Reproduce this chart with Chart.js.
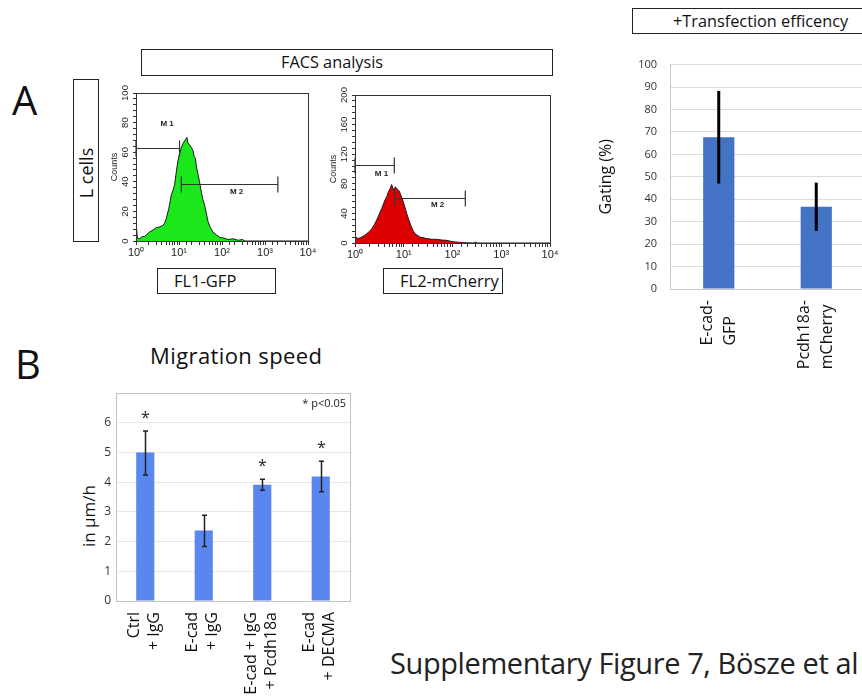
<!DOCTYPE html>
<html>
<head>
<meta charset="utf-8">
<script src="https://cdn.jsdelivr.net/npm/chart.js@4.4.1/dist/chart.umd.min.js"></script>
<style>
html,body{margin:0;padding:0;overflow:hidden;background:#fff;}
body{position:relative;width:862px;height:700px;font-family:"Open Sans",sans-serif;color:#111;}
canvas{position:absolute;}
.t{position:absolute;line-height:1;white-space:nowrap;}
.box{position:absolute;border:1px solid #222;box-sizing:border-box;background:#fff;white-space:nowrap;}
</style>
</head>
<body>

<div class="t" style="left:12px;top:80px;font-size:40px;">A</div>
<div class="t" style="left:15px;top:344px;font-size:40px;">B</div>

<div class="box" style="left:73px;top:79px;width:26px;height:163px;">
  <div class="t" style="left:50%;top:58%;font-size:18px;transform:translate(-50%,-50%) rotate(-90deg);">L cells</div>
</div>
<div class="box" style="left:141px;top:49px;width:412px;height:27px;font-size:16.3px;line-height:25px;padding-left:139px;">FACS analysis</div>
<div class="box" style="left:157px;top:268px;width:119px;height:26px;font-size:16.5px;line-height:24px;padding-left:16px;">FL1-GFP</div>
<div class="box" style="left:383px;top:268px;width:120px;height:26px;font-size:16.5px;line-height:24px;padding-left:16px;">FL2-mCherry</div>
<div class="box" style="left:632px;top:8px;width:250px;height:26px;font-size:16.3px;line-height:24px;padding-left:40px;">+Transfection efficency</div>

<div class="t" style="left:150px;top:343.5px;font-size:22px;letter-spacing:0.4px;">Migration speed</div>
<div class="t" style="left:88px;top:516px;font-size:17px;transform:translate(-50%,-50%) rotate(-90deg);">in µm/h</div>

<div class="t" style="left:390px;top:648px;font-size:29px;letter-spacing:-0.4px;color:#222;">Supplementary Figure 7, Bösze et al</div>

<canvas id="gfp" width="230" height="182" style="left:96px;top:83px;"></canvas>
<canvas id="mch" width="250" height="182" style="left:315px;top:85px;"></canvas>
<canvas id="trans" width="290" height="334" style="left:586px;top:45px;"></canvas>
<canvas id="mig" width="306" height="320" style="left:56px;top:380px;"></canvas>

<script>
// ---------- data ----------
const facsXTickLabels = ['10⁰','10¹','10²','10³','10⁴'];

const gfpIntensity = [1, 1.02, 1.08, 1.2, 1.4, 1.57, 1.8, 2.05, 2.5, 2.94, 3.5, 4.2, 4.6, 5.04, 5.8, 6.6, 7.2, 7.9, 8.6, 9.4, 10.3, 11.3, 12.4, 13.5, 14.5, 15.3, 16.2, 17.7, 19.5, 21.2, 22.5, 24, 25.5, 27.7, 30, 33.1, 36, 39.6, 43, 47.4, 54, 62, 75, 89, 110, 139, 180, 239, 300, 342, 10000];
const gfpCounts    = [0, 10, 2, 1.5, 3, 3, 4.5, 6, 7.5, 9, 9.5, 10.5, 12, 15, 22, 31, 34, 38, 46, 54, 59, 63, 66, 67.5, 69, 70, 66, 65, 63, 61, 57, 56, 50, 45, 40, 33, 28, 24, 19, 13, 9, 6, 4, 2.5, 2, 1, 1.5, 0.5, 1, 0, 0];
const gfpCountTicks = [0, 20, 40, 60, 80, 100];
const gfpGateNames = ['M1', 'M2'];
const gfpGateFrom  = [1, 11.3];
const gfpGateTo    = [10.3, 1990];
const gfpGateLevel = [63, 38.3];
const gfpGateLabelX = [5.3, 219];
const gfpGateLabelY = [79, 33];

const mchIntensity = [1, 1, 1.04, 1.17, 1.37, 1.55, 1.74, 2.0, 2.2, 2.5, 2.78, 3.1, 3.52, 4.12, 4.5, 4.83, 5.3, 5.65, 6.0, 6.31, 6.7, 7.16, 8.12, 8.8, 9.5, 10.5, 11.5, 12.6, 13.9, 15.5, 17, 21.5, 29.5, 38, 47.3, 60, 75.9, 95, 112, 167, 267, 300, 320, 10000];
const mchCounts    = [0, 76, 8, 6, 8, 10, 12.6, 16, 19, 25, 31, 38, 46.5, 58, 63, 69, 74, 79, 74, 71, 76, 73.6, 70, 64, 58, 49, 40, 32, 24, 17, 12.6, 8, 6, 5, 5, 4, 3.6, 2, 1.4, 0.5, 0, 1, 0, 0];
const mchCountTicks = [0, 40, 80, 120, 160, 200];
const mchGateNames = ['M1', 'M2'];
const mchGateFrom  = [1, 6.6];
const mchGateTo    = [6.4, 183];
const mchGateLevel = [106, 61];
const mchGateLabelX = [3.5, 49.6];
const mchGateLabelY = [94, 51];

const transCategories = [['E-cad-', 'GFP'], ['Pcdh18a-', 'mCherry']];
const transValues  = [67.6, 36.6];
const transErrLow  = [47.0, 25.9];
const transErrHigh = [88.3, 47.4];

const migCategories = [['Ctrl', '+ IgG'], ['E-cad', '+ IgG'], ['E-cad + IgG', '+ Pcdh18a'], ['E-cad', '+ DECMA']];
const migValues  = [5.0, 2.37, 3.91, 4.19];
const migErrLow  = [4.24, 1.83, 3.73, 3.68];
const migErrHigh = [5.72, 2.89, 4.10, 4.70];
const migSignificant = [true, false, true, true];
const migNote = '* p<0.05';

// ---------- helpers ----------
Chart.defaults.font.family = '"Open Sans", sans-serif';
Chart.defaults.animation = false;
Chart.defaults.responsive = false;
Chart.defaults.devicePixelRatio = 1;
Chart.defaults.plugins.legend.display = false;
Chart.defaults.plugins.tooltip.enabled = false;

const frame = (color, width, when) => ({
  id: 'frame',
  [when || 'afterDraw'](chart) {
    const {ctx, chartArea: a} = chart;
    ctx.save(); ctx.strokeStyle = color; ctx.lineWidth = width;
    ctx.strokeRect(Math.round(a.left) + 0.5, Math.round(a.top) + 0.5, Math.round(a.right - a.left), Math.round(a.bottom - a.top));
    ctx.restore();
  }
});

const rotYLabels = (tickValues) => ({
  id: 'rotY',
  afterDraw(chart) {
    const s = chart.scales.y, ctx = chart.ctx;
    ctx.save(); ctx.font = '9.5px "Liberation Sans"'; ctx.fillStyle = '#222';
    ctx.textAlign = 'center'; ctx.textBaseline = 'middle';
    tickValues.forEach(v => {
      ctx.save(); ctx.translate(s.right - 10.5, s.getPixelForValue(v)); ctx.rotate(-Math.PI / 2);
      ctx.fillText(String(v), 0, 0); ctx.restore();
    });
    ctx.restore();
  }
});

const gates = (names, from, to, level, lx, ly) => ({
  id: 'gates',
  afterDatasetsDraw(chart) {
    const {ctx, scales: {x, y}} = chart;
    ctx.save(); ctx.strokeStyle = '#333'; ctx.lineWidth = 1.2; ctx.fillStyle = '#222';
    ctx.font = 'bold 8px "Liberation Sans"'; ctx.textAlign = 'center'; ctx.textBaseline = 'middle';
    names.forEach((n, i) => {
      const x1 = x.getPixelForValue(from[i]), x2 = x.getPixelForValue(to[i]), yy = Math.round(y.getPixelForValue(level[i])) + 0.5;
      ctx.beginPath();
      ctx.moveTo(x1, yy); ctx.lineTo(x2, yy);
      ctx.moveTo(x1, yy - 8); ctx.lineTo(x1, yy + 8);
      ctx.moveTo(x2, yy - 8); ctx.lineTo(x2, yy + 8);
      ctx.stroke();
      ctx.fillText(n.split('').join(' '), x.getPixelForValue(lx[i]), y.getPixelForValue(ly[i]));
    });
    ctx.restore();
  }
});

// rotated multi-line category labels; 'end' = each line ends at the axis, 'block' = longest line ends at axis, lines start-aligned
const rotXLabels = (categories, font, gap, offsets, mode) => ({
  id: 'rotX',
  afterDraw(chart) {
    const {ctx, scales: {x}} = chart;
    ctx.save(); ctx.font = font; ctx.fillStyle = '#111'; ctx.textBaseline = 'middle';
    categories.forEach((lines, i) => {
      const px = x.getPixelForTick(i);
      ctx.save();
      if (mode === 'block') {
        const w = Math.max(...lines.map(l => ctx.measureText(l).width));
        ctx.translate(px, x.top + gap + w); ctx.textAlign = 'left';
      } else {
        ctx.translate(px, x.top + gap); ctx.textAlign = 'right';
      }
      ctx.rotate(-Math.PI / 2);
      lines.forEach((l, j) => ctx.fillText(l, 0, offsets[j]));
      ctx.restore();
    });
    ctx.restore();
  }
});

function facsChart(id, xs, ys, maxY, step, tickVals, color, gatePlugin) {
  return new Chart(document.getElementById(id), {
    type: 'line',
    data: { datasets: [{
      data: xs.map((x, i) => ({x, y: ys[i]})),
      fill: 'origin', backgroundColor: color, borderColor: '#1a1a1a', borderWidth: 1,
      pointRadius: 0, tension: 0
    }]},
    options: {
      layout: { padding: { top: 10, right: id === 'gfp' ? 18 : 15, left: 0, bottom: 0 } },
      scales: {
        x: {
          type: 'logarithmic', min: 1, max: 10000,
          grid: { drawOnChartArea: false, drawTicks: true, tickLength: 4, color: '#333' },
          border: { display: true, color: '#333' },
          ticks: {
            autoSkip: false, maxRotation: 0, padding: 1, color: '#222',
            font: { family: '"Liberation Sans"', size: 11 },
            callback: (v) => { const p = Math.log10(v); const r = Math.round(p); return Math.abs(p - r) < 1e-6 ? facsXTickLabels[r] : ''; }
          },
          afterFit: s => { s.height = 24; }
        },
        y: {
          min: 0, max: maxY,
          grid: { drawOnChartArea: false, drawTicks: true, tickLength: 3, color: '#333' },
          border: { display: true, color: '#333' },
          ticks: { display: false, stepSize: step },
          title: { display: true, text: 'Counts', color: '#222', font: { family: '"Liberation Sans"', size: 9 }, padding: { top: 13, bottom: 0 } },
          afterFit: s => { s.width = 40; }
        }
      }
    },
    plugins: [frame('#333', 1), rotYLabels(tickVals), gatePlugin]
  });
}

facsChart('gfp', gfpIntensity, gfpCounts, 100, 4, gfpCountTicks, '#1be81b',
  gates(gfpGateNames, gfpGateFrom, gfpGateTo, gfpGateLevel, gfpGateLabelX, gfpGateLabelY));
facsChart('mch', mchIntensity, mchCounts, 200, 8, mchCountTicks, '#dd0000',
  gates(mchGateNames, mchGateFrom, mchGateTo, mchGateLevel, mchGateLabelX, mchGateLabelY));

// ---------- transfection efficiency ----------
new Chart(document.getElementById('trans'), {
  type: 'bar',
  data: {
    labels: transCategories,
    datasets: [{ data: transValues, backgroundColor: '#4472c4', categoryPercentage: 1, barPercentage: 0.32 }]
  },
  options: {
    layout: { padding: { top: 12, right: 11, left: 0, bottom: 0 } },
    scales: {
      x: {
        grid: { display: false },
        border: { display: true, color: '#c8c8c8' },
        ticks: { display: false },
        afterFit: s => { s.height = 90; }
      },
      y: {
        min: 0, max: 100,
        grid: { color: '#dcdcdc', drawTicks: false },
        border: { display: true, color: '#c8c8c8' },
        ticks: { stepSize: 10, padding: 13, color: '#333', font: { size: 11 } },
        title: { display: true, text: 'Gating (%)', color: '#111', font: { size: 16 }, padding: { top: 11, bottom: 0 } },
        afterFit: s => { s.width = 84; }
      }
    }
  },
  plugins: [{
    id: 'transErr',
    afterDatasetsDraw(chart) {
      const {ctx, scales: {y}} = chart;
      const meta = chart.getDatasetMeta(0);
      ctx.save(); ctx.strokeStyle = '#000'; ctx.lineWidth = 3;
      transErrLow.forEach((lo, i) => {
        const px = meta.data[i].x;
        ctx.beginPath(); ctx.moveTo(px, y.getPixelForValue(lo)); ctx.lineTo(px, y.getPixelForValue(transErrHigh[i])); ctx.stroke();
      });
      ctx.restore();
    }
  }, rotXLabels(transCategories, '16px "Open Sans"', 11, [-11.5, 11.5], 'block')]
});

// ---------- migration speed ----------
new Chart(document.getElementById('mig'), {
  type: 'bar',
  data: {
    labels: migCategories,
    datasets: [{ data: migValues, backgroundColor: '#5a87ef', categoryPercentage: 1, barPercentage: 0.31 }]
  },
  options: {
    layout: { padding: { top: 13, right: 12, left: 0, bottom: 0 } },
    scales: {
      x: {
        grid: { display: false },
        border: { display: true, color: '#c4c4c4' },
        ticks: { display: false },
        afterFit: s => { s.height = 99; }
      },
      y: {
        min: 0, max: 7,
        grid: { color: (c) => c.tick && c.tick.value === 7 ? '#c4c4c4' : '#e6e6e6', drawTicks: false },
        border: { display: true, color: '#c4c4c4' },
        ticks: { stepSize: 1, padding: 5, color: '#333', font: { size: 12 }, callback: v => v === 7 ? '' : v },
        afterFit: s => { s.width = 60; }
      }
    }
  },
  plugins: [frame('#c4c4c4', 1, 'beforeDatasetsDraw'), {
    id: 'migExtras',
    afterDatasetsDraw(chart) {
      const {ctx, scales: {y}, chartArea: a} = chart;
      const meta = chart.getDatasetMeta(0);
      ctx.save(); ctx.strokeStyle = '#222'; ctx.lineWidth = 1.5; ctx.fillStyle = '#222';
      ctx.font = '16px "Open Sans"'; ctx.textAlign = 'center'; ctx.textBaseline = 'middle';
      migErrLow.forEach((lo, i) => {
        const px = Math.round(meta.data[i].x) + 0.5;
        const yl = y.getPixelForValue(lo), yh = y.getPixelForValue(migErrHigh[i]);
        ctx.beginPath();
        ctx.moveTo(px, yl); ctx.lineTo(px, yh);
        ctx.moveTo(px - 2.5, yl); ctx.lineTo(px + 2.5, yl);
        ctx.moveTo(px - 2.5, yh); ctx.lineTo(px + 2.5, yh);
        ctx.stroke();
        if (migSignificant[i]) ctx.fillText('*', px, yh - 13);
      });
      ctx.font = '11px "Open Sans"'; ctx.textAlign = 'right';
      ctx.fillText(migNote, a.right - 4, a.top + 11);
      ctx.restore();
    }
  }, rotXLabels(migCategories, '16px "Open Sans"', 11, [-11, 9], 'end')]
});
</script>
</body>
</html>
